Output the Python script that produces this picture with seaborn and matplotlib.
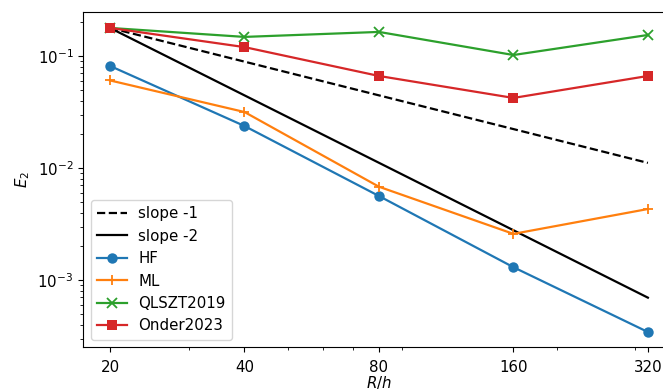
import matplotlib
matplotlib.use("Agg")
import matplotlib.pyplot as plt
import seaborn as sns
import numpy as np
import pandas as pd

h_ratio = [20, 40, 80, 160, 320]
slope1 = [0.178, 0.089, 0.0445, 0.02225, 0.0111]
slope2 = [0.178, 0.0445, 0.011125, 0.00278, 0.000695]
hf = [0.0815, 0.0237, 0.00562, 0.0013, 0.000343]
ml = [0.0605, 0.0316, 0.0068, 0.00258, 0.0043]
qlszt = [0.178, 0.148, 0.164, 0.102, 0.154]
onder = [0.178, 0.12, 0.0663, 0.0422, 0.0663]

plt.rcParams["font.size"] = 10.8
plt.rcParams["lines.linewidth"] = 1.6

fig = plt.figure(figsize=(6.63, 3.92), dpi=100)
ax = fig.add_axes([83/663, 1-347/392, (675-83)/663, (347-12)/392])

lw = 1.6
sns.lineplot(x=h_ratio, y=slope1, ax=ax, color="black", linestyle="--", linewidth=lw, label="slope -1")
sns.lineplot(x=h_ratio, y=slope2, ax=ax, color="black", linewidth=lw, label="slope -2")
sns.lineplot(x=h_ratio, y=hf, ax=ax, color="#1f77b4", linewidth=lw, marker="o", markersize=7.5,
             markeredgewidth=0, label="HF")
sns.lineplot(x=h_ratio, y=ml, ax=ax, color="#ff7f0e", linewidth=lw, marker="+", markersize=7.5,
             markeredgewidth=1.3, markeredgecolor="#ff7f0e", label="ML")
sns.lineplot(x=h_ratio, y=qlszt, ax=ax, color="#2ca02c", linewidth=lw, marker="x", markersize=7.5,
             markeredgewidth=1.3, markeredgecolor="#2ca02c", label="QLSZT2019")
sns.lineplot(x=h_ratio, y=onder, ax=ax, color="#d62728", linewidth=lw, marker="s", markersize=7.5,
             markeredgewidth=0, label="Onder2023")

ax.set_xscale("log")
ax.set_yscale("log")
ax.set_xticks(h_ratio)
ax.set_xticklabels([str(v) for v in h_ratio])
ax.tick_params(axis="x", which="major", pad=5.5)
ax.set_xlim(17.4, 368)
ax.set_ylim(2.52e-4, 0.247)
ax.set_xlabel("$R/h$", labelpad=-0.5)
ax.set_ylabel("$E_2$")
ax.legend(loc="lower left")

fig.savefig("out.png", dpi=100)
